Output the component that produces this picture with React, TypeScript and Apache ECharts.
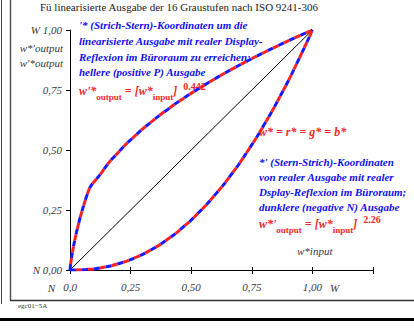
import React, { useEffect, useRef } from "react";
import * as echarts from "echarts";

const inputLevels = [0, 0.0667, 0.1333, 0.2, 0.2667, 0.3333, 0.4, 0.4667, 0.5333, 0.6, 0.6667, 0.7333, 0.8, 0.8667, 0.9333, 1];
const brighterOutput = [0, 0.302, 0.41, 0.491, 0.5575, 0.6153, 0.667, 0.714, 0.7574, 0.7979, 0.8359, 0.8719, 0.9061, 0.9387, 0.97, 1];
const darkerOutput = [0, 0.0022, 0.0105, 0.0263, 0.0504, 0.0835, 0.126, 0.1787, 0.2416, 0.3152, 0.4, 0.496, 0.6039, 0.7237, 0.8556, 1];
const diagonal = [[0, 0], [1, 1]];
const xTickLabels: Record<string, string> = { "0": "0,0", "0.25": "0,25", "0.5": "0,50", "0.75": "0,75", "1": "1,00", "1.25": "" };
const yTickLabels: Record<string, string> = { "0": "N 0,00", "0.25": "0,25", "0.5": "0,50", "0.75": "0,75", "1": "W 1,00" };

const BLUE = "#1010f0";
const RED = "#f22828";
const GRAY = "#3a3a3a";
const SERIF = "Liberation Serif, Times New Roman, serif";

function pairs(ys: number[]) {
  return inputLevels.map((x, i) => [x, ys[i]]);
}

function blueText(x: number, y: number, text: string) {
  return {
    type: "text",
    x,
    y,
    style: {
      text,
      fill: BLUE,
      fontFamily: SERIF,
      fontStyle: "italic",
      fontWeight: "bold",
      fontSize: 11,
      verticalAlign: "middle",
      align: "left",
    },
  };
}

function formula(x: number, y: number, lead: string, exp: string) {
  return {
    type: "text",
    x,
    y,
    style: {
      text: `{m|${lead}}{s|output}{m| = [w*}{s|input}{m|]}{p|${exp}}`,
      fill: RED,
      verticalAlign: "middle",
      align: "left",
      rich: {
        m: { fontFamily: SERIF, fontStyle: "italic", fontWeight: "bold", fontSize: 12, lineHeight: 20, verticalAlign: "middle", fill: RED },
        s: { fontFamily: SERIF, fontWeight: "bold", fontSize: 9, lineHeight: 9, verticalAlign: "bottom", fill: RED },
        p: { fontFamily: SERIF, fontWeight: "bold", fontSize: 10, lineHeight: 10, verticalAlign: "top", fill: RED, padding: [0, 0, 0, 6] },
      },
    },
  };
}

function dashedPair(name: string, ys: number[]) {
  return [
    {
      name: name + "-blue",
      type: "line",
      data: pairs(ys),
      smooth: 0.6,
      symbol: "none",
      lineStyle: { color: "#1a1aff", width: 3, type: [6, 6], dashOffset: 0 },
      z: 3,
    },
    {
      name: name + "-red",
      type: "line",
      data: pairs(ys),
      smooth: 0.6,
      symbol: "none",
      lineStyle: { color: "#ff2020", width: 3, type: [6, 6], dashOffset: 6 },
      z: 4,
    },
  ];
}

function gtext(x: number, y: number, text: string, align: string, extra: any = {}) {
  return {
    type: "text",
    x,
    y,
    style: { text, fill: GRAY, fontFamily: SERIF, fontStyle: "italic", fontSize: 11, align, verticalAlign: "middle", ...extra },
  };
}

export default function App() {
  const ref = useRef<HTMLDivElement>(null);
  useEffect(() => {
    if (!ref.current) return;
    const chart = echarts.init(ref.current, null, { renderer: "svg" });
    chart.setOption({
      animation: false,
      backgroundColor: "#ffffff",
      textStyle: { fontFamily: SERIF },
      grid: { left: 70, top: 30, width: 303, height: 240, containLabel: false },
      xAxis: [
        {
          type: "value",
          min: 0,
          max: 1.25,
          interval: 0.25,
          position: "bottom",
          axisLine: { show: true, lineStyle: { color: "#000", width: 1 } },
          axisTick: { show: true, inside: false, length: 4, lineStyle: { color: "#000" } },
          axisLabel: {
            margin: 11,
            color: GRAY,
            fontFamily: SERIF,
            fontStyle: "italic",
            fontSize: 11,
            formatter: (v: number) => xTickLabels[String(v)] ?? "",
          },
          splitLine: { show: false },
        },
        {
          type: "value",
          min: 0,
          max: 1.25,
          interval: 0.25,
          position: "bottom",
          offset: 0,
          axisLine: { show: false },
          axisTick: { show: true, inside: true, length: 3, lineStyle: { color: "#000" } },
          axisLabel: { show: false },
          splitLine: { show: false },
        },
      ],
      yAxis: {
        type: "value",
        min: 0,
        max: 1,
        interval: 0.25,
        axisLine: { show: true, lineStyle: { color: "#000", width: 1 } },
        axisTick: { show: true, inside: false, length: 4, lineStyle: { color: "#000" } },
        axisLabel: {
          margin: 8,
          color: GRAY,
          fontFamily: SERIF,
          fontStyle: "italic",
          fontSize: 11,
          formatter: (v: number) => yTickLabels[String(v)] ?? "",
        },
        splitLine: { show: false },
      },
      series: [
        {
          name: "diagonal",
          type: "line",
          data: diagonal,
          symbol: "none",
          lineStyle: { color: "#000", width: 1 },
          z: 2,
        },
        ...dashedPair("brighter", brighterOutput),
        ...dashedPair("darker", darkerOutput),
      ],
      graphic: [
        { type: "line", shape: { x1: 1.5, y1: 0, x2: 1.5, y2: 304 }, style: { stroke: "#444", lineWidth: 1 }, silent: true },
        { type: "line", shape: { x1: 10.5, y1: 0, x2: 10.5, y2: 300.5 }, style: { stroke: "#555", lineWidth: 1.5 }, silent: true },
        { type: "line", shape: { x1: 10, y1: 300.5, x2: 414, y2: 300.5 }, style: { stroke: "#333", lineWidth: 1.5 }, silent: true },
        { type: "line", shape: { x1: 0, y1: 319.5, x2: 414, y2: 319.5 }, style: { stroke: "#000", lineWidth: 3 }, silent: true },
        {
          type: "text",
          x: 40,
          y: 7,
          style: { text: "Fü linearisierte Ausgabe der 16 Graustufen nach ISO 9241-306", fill: "#222", fontFamily: SERIF, fontSize: 11, verticalAlign: "middle" },
        },
        {
          type: "text",
          x: 18,
          y: 306,
          style: { text: "egc01−5A", fill: "#333", fontFamily: SERIF, fontSize: 7, verticalAlign: "middle" },
        },
        gtext(63, 48, "w*'output", "right"),
        gtext(63, 63, "w'*output", "right"),
        gtext(55, 288, "N", "right"),
        gtext(330, 288, "W", "left"),
        gtext(297, 251, "w*input", "left"),
        blueText(79, 25, "'* (Strich-Stern)-Koordinaten um die"),
        blueText(79, 41, "linearisierte Ausgabe mit realer Display-"),
        blueText(79, 57, "Reflexion im Büroraum zu erreichen;"),
        blueText(79, 72, "hellere (positive P) Ausgabe"),
        formula(79, 91, "w'*", "0.442"),
        {
          type: "text",
          x: 259,
          y: 132,
          style: { text: "w* = r* = g* = b*", fill: RED, fontFamily: SERIF, fontStyle: "italic", fontWeight: "bold", fontSize: 12, verticalAlign: "middle" },
        },
        blueText(259, 162, "*' (Stern-Strich)-Koordinaten"),
        blueText(259, 177, "von realer Ausgabe mit realer"),
        blueText(259, 192, "Dsplay-Reflexion im Büroraum;"),
        blueText(259, 207, "dunklere (negative N) Ausgabe"),
        formula(259, 224, "w*'", "2.26"),
      ],
    });
    return () => chart.dispose();
  }, []);
  return <div ref={ref} style={{ position: "fixed", left: 0, top: 0, width: 414, height: 331 }} />;
}
